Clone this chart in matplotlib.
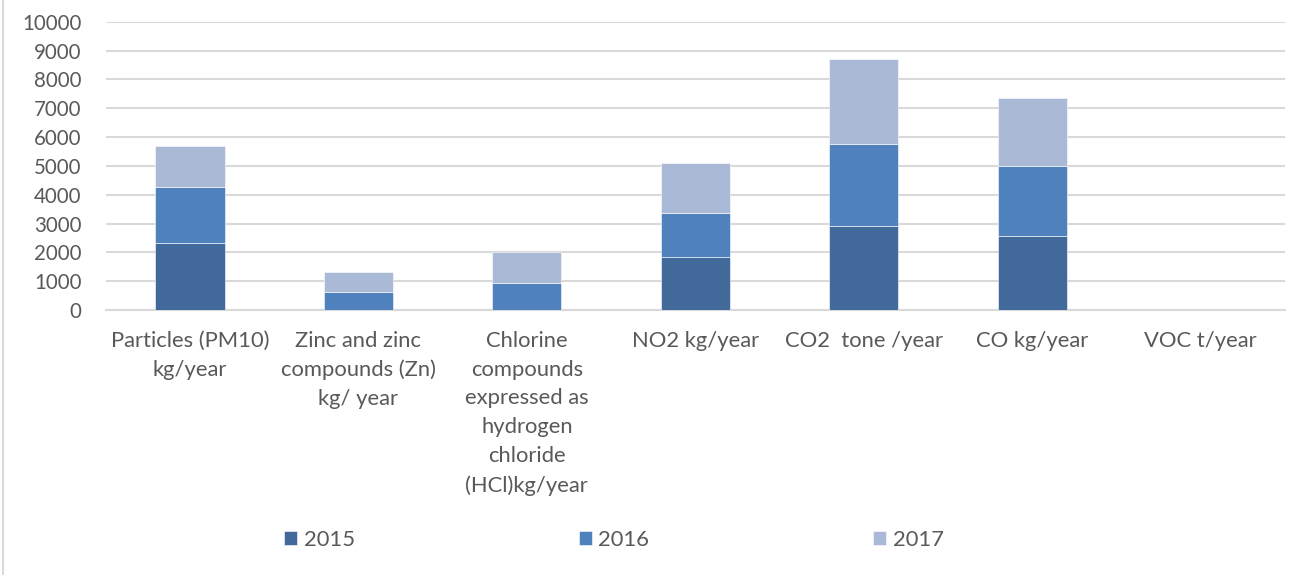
import matplotlib.pyplot as plt
import numpy as np
from matplotlib.lines import Line2D

plt.rcParams['font.family'] = ['Lato', 'DejaVu Sans']

categories = [
    "Particles (PM10)\nkg/year",
    "Zinc and zinc\ncompounds (Zn)\nkg/ year",
    "Chlorine\ncompounds\nexpressed as\nhydrogen\nchloride\n(HCl)kg/year",
    "NO2 kg/year",
    "CO2  tone /year",
    "CO kg/year",
    "VOC t/year",
]
years = ["2015", "2016", "2017"]
v2015 = [2320, 0, 0, 1825, 2925, 2580, 0]
v2016 = [1945, 635, 935, 1550, 2830, 2415, 0]
v2017 = [1410, 683, 1075, 1735, 2960, 2370, 0]
colors = ["#416A9B", "#4F81BD", "#AAB9D6"]
text_gray = "#595959"
grid_gray = "#D9D9D9"

fig = plt.figure(figsize=(12.9, 5.75), dpi=100)
ax = fig.add_axes([0.082, 0.461, 0.914, 0.501])

x = np.arange(len(categories))
bottom = np.zeros(len(categories))
bars = []
for vals, col, lab in zip([v2015, v2016, v2017], colors, years):
    b = ax.bar(x, vals, 0.41, bottom=bottom, color=col, label=lab,
               edgecolor="white", linewidth=0.4, zorder=3)
    bars.append(b)
    bottom += np.array(vals)

ax.set_xlim(-0.5, len(categories) - 0.5)
ax.set_ylim(0, 10000)
ax.set_yticks(np.arange(0, 10001, 1000))
ax.yaxis.grid(True, color=grid_gray, linewidth=1.5, zorder=0)
ax.set_axisbelow(True)
for s in ["top", "right", "left"]:
    ax.spines[s].set_visible(False)
ax.spines["bottom"].set_color(grid_gray)
ax.spines["bottom"].set_linewidth(1.5)
ax.tick_params(length=0, colors=text_gray, labelsize=15.8)
ax.tick_params(axis="y", pad=17.5, labelsize=14.8)
ax.set_xticks(x)
ax.set_xticklabels(categories, linespacing=1.55, va="top")
ax.tick_params(axis="x", pad=15)

fig.legend(handles=[bars[0], bars[1], bars[2]], labels=years, loc="center",
           bbox_to_anchor=(0.476, 0.061), ncol=3, frameon=False,
           fontsize=15.8, labelcolor=text_gray, handlelength=0.6,
           handleheight=0.6, handletextpad=0.3, columnspacing=10.2)

fig.add_artist(Line2D([0.0025, 0.0025], [0, 1], transform=fig.transFigure,
                      color=grid_gray, linewidth=1.5))

fig.savefig("out.png", dpi=100)
